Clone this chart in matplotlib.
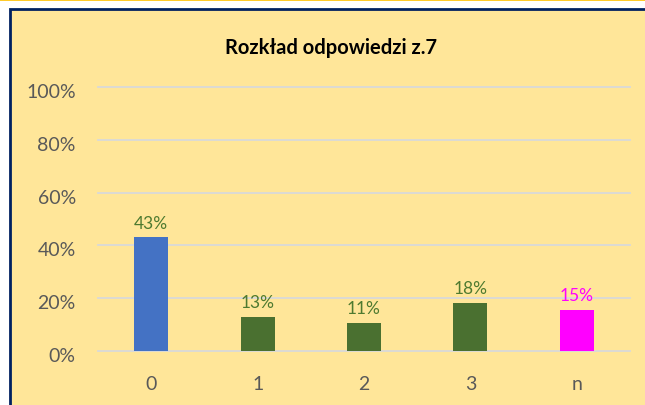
import matplotlib
matplotlib.use("Agg")
import matplotlib.pyplot as plt
import matplotlib.transforms as mtransforms
from matplotlib.patches import Rectangle
from matplotlib.lines import Line2D
import numpy as np

plt.rcParams['font.family'] = ['Lato', 'DejaVu Sans']

categories = ['0', '1', '2', '3', 'n']
values = [0.43, 0.13, 0.107, 0.183, 0.156]
labels = ['43%', '13%', '11%', '18%', '15%']
bar_colors = ['#4472C4', '#4A7030', '#4A7030', '#4A7030', '#FF00FF']
label_colors = ['#4E7A30', '#4E7A30', '#4E7A30', '#4E7A30', '#FF00FF']
yticks = [0, 0.2, 0.4, 0.6, 0.8, 1.0]
ytick_labels = ['0%', '20%', '40%', '60%', '80%', '100%']

W, H = 645, 406
fig = plt.figure(figsize=(W / 100, H / 100), dpi=100)
fig.patch.set_facecolor('white')

# chart area box (cut off at right and bottom)
fig.patches.append(Rectangle((9.5 / W, -0.05), 1.0, 1 - 9.5 / H + 0.05,
                             transform=fig.transFigure, facecolor='#FFE699',
                             edgecolor='#002060', linewidth=2.0, zorder=-5))
fig.lines.append(Line2D([0, 1], [1 - 0.5 / H, 1 - 0.5 / H], transform=fig.transFigure,
                        color='#FFC000', linewidth=1.2, zorder=-5))

ax = fig.add_axes([98 / W, 1 - 352 / H, 532 / W, 264 / H])
ax.set_facecolor('none')
x = np.arange(len(categories))
ax.bar(x, values, width=0.32, color=bar_colors, zorder=3)
for xi, v, lab, c in zip(x, values, labels, label_colors):
    ax.annotate(lab, (xi, v), xytext=(0, 5), textcoords='offset points',
                ha='center', va='bottom', color=c, fontsize=12.5)

ax.set_xlim(-0.5, len(categories) - 0.5)
ax.set_ylim(0, 1.0)
ax.set_yticks(yticks, labels=ytick_labels)
ax.set_xticks(x, labels=categories)
ax.grid(axis='y', color='#D9D9D9', linewidth=1.3, zorder=0)
for gl in ax.get_ygridlines():
    gl.set_clip_on(False)
ax.set_axisbelow(True)
for s in ax.spines.values():
    s.set_visible(False)
ax.tick_params(axis='both', length=0, colors='#595959', labelsize=14)
ax.tick_params(axis='y', pad=16)
ax.tick_params(axis='x', pad=17)

# nudge y labels slightly down like the original
shift = mtransforms.ScaledTranslation(0, -3 / 100, fig.dpi_scale_trans)
for lbl in ax.get_yticklabels():
    lbl.set_transform(lbl.get_transform() + shift)

fig.text(331 / W, 1 - 48 / H, 'Rozkład odpowiedzi z.7', ha='center', va='center',
         fontsize=14.5, fontweight='bold', color='black')

fig.savefig('out.png', dpi=100)
